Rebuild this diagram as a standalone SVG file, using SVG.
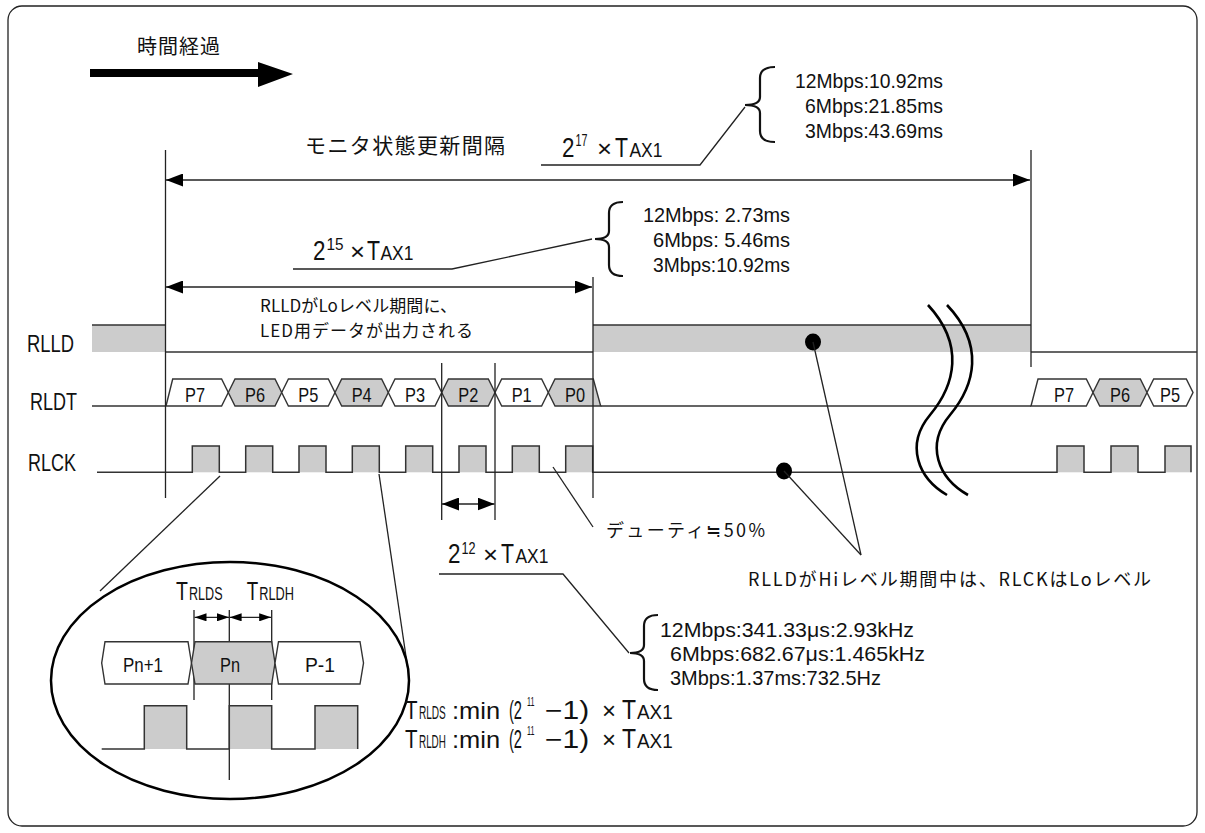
<svg xmlns="http://www.w3.org/2000/svg" width="1205" height="833" viewBox="0 0 1205 833">
<style>
.t{font-family:"Liberation Sans","Noto Sans CJK JP",sans-serif;fill:#111}
.j{font-family:"Noto Sans CJK JP","Liberation Sans",sans-serif;fill:#111}
.ln{stroke:#222;stroke-width:1.3;fill:none}
.sig{stroke:#333;stroke-width:1.5;fill:none}
.g{fill:#cccccc}
.hw{fill:#fff;stroke:#333;stroke-width:1.4}
.hg{fill:#cccccc;stroke:#333;stroke-width:1.4}
.br{stroke:#111;stroke-width:2.2;fill:none}
</style>
<defs>
<marker id="ah" markerWidth="17" markerHeight="13" refX="17" refY="6.5" orient="auto-start-reverse" markerUnits="userSpaceOnUse"><path d="M0,0 L17,6.5 L0,13 Z" fill="#000"/></marker>
<marker id="ahs" markerWidth="12" markerHeight="8" refX="12" refY="4" orient="auto-start-reverse" markerUnits="userSpaceOnUse"><path d="M0,0 L12,4 L0,8 Z" fill="#000"/></marker>
</defs>
<rect x="8" y="6" width="1189" height="820" rx="14" fill="#fff" stroke="#222" stroke-width="1.3"/>

<g id="time-arrow">
<text class="j" x="137" y="54" font-size="20" textLength="83">時間経過</text>
<polygon points="90,69 258,69 258,62 293,74 258,87 258,77 90,77" fill="#000"/>
</g>

<g id="monitor-interval">
<text class="j" x="305" y="153" font-size="21" textLength="200">モニタ状態更新間隔</text>
<g class="t" transform="translate(562,157)">
<text transform="scale(0.8,1)" font-size="28">2</text>
<text transform="translate(13.5,-11) scale(0.67,1)" font-size="16">17</text>
<text transform="translate(35,0) scale(1.07,1)" font-size="24">×</text>
<text transform="translate(53,0) scale(0.76,1)" font-size="28">T</text>
<text transform="translate(67.5,0) scale(0.83,1)" font-size="21">AX1</text>
</g>
<path class="br" d="M775,67 Q760,67 760,78 L760,97 Q760,105 745,105 Q760,105 760,113 L760,131 Q760,142 775,142"/>
<text class="t" x="943" y="88" font-size="21" text-anchor="end" textLength="148" lengthAdjust="spacingAndGlyphs">12Mbps:10.92ms</text>
<text class="t" x="943" y="113" font-size="21" text-anchor="end" textLength="138" lengthAdjust="spacingAndGlyphs">6Mbps:21.85ms</text>
<text class="t" x="943" y="138" font-size="21" text-anchor="end" textLength="138" lengthAdjust="spacingAndGlyphs">3Mbps:43.69ms</text>
</g>

<g id="lo-period">
<g class="t" transform="translate(313,260)">
<text transform="scale(0.8,1)" font-size="28">2</text>
<text transform="translate(13.5,-10) scale(0.9,1)" font-size="17">15</text>
<text transform="translate(37,0) scale(1.07,1)" font-size="24">×</text>
<text transform="translate(54,0) scale(0.76,1)" font-size="28">T</text>
<text transform="translate(67.5,0) scale(0.83,1)" font-size="21">AX1</text>
</g>
<path class="br" d="M623,202 Q609,202 609,213 L609,231 Q609,239 595,239 Q609,239 609,247 L609,265 Q609,276 623,276"/>
<text class="t" x="790" y="222" font-size="21" text-anchor="end" textLength="147" lengthAdjust="spacingAndGlyphs">12Mbps: 2.73ms</text>
<text class="t" x="790" y="247" font-size="21" text-anchor="end" textLength="137" lengthAdjust="spacingAndGlyphs">6Mbps: 5.46ms</text>
<text class="t" x="790" y="272" font-size="21" text-anchor="end" textLength="137" lengthAdjust="spacingAndGlyphs">3Mbps:10.92ms</text>
<text class="j" x="260" y="312" font-size="17" textLength="197">RLLDがLoレベル期間に、</text>
<text class="j" x="260" y="337" font-size="17" textLength="213">LED用データが出力される</text>
</g>

<g id="signal-labels">
<text class="t" x="27" y="352" font-size="23" textLength="47" lengthAdjust="spacingAndGlyphs">RLLD</text>
<text class="t" x="30" y="410" font-size="23" textLength="47" lengthAdjust="spacingAndGlyphs">RLDT</text>
<text class="t" x="28" y="471" font-size="23" textLength="48" lengthAdjust="spacingAndGlyphs">RLCK</text>
</g>

<g id="rlld">
<rect class="g" x="92" y="325" width="74" height="27"/>
<rect class="g" x="593" y="325" width="438" height="27"/>
<path class="sig" d="M92,325 H166 M166,352 H593 M593,325 H1031 M1031,352 H1197"/>
</g>

<g id="rldt">
<path class="sig" d="M92,406 H166 M600.7,406 H1031"/>
<path class="hw" d="M166,406 L172.7,379 L221.6,379 L228.3,392.5 L221.6,406 Z"/>
<path class="hg" d="M228.3,392.5 L235,379 L275,379 L281.7,392.5 L275,406 L235,406 Z"/>
<path class="hw" d="M281.7,392.5 L288.4,379 L328.3,379 L335,392.5 L328.3,406 L288.4,406 Z"/>
<path class="hg" d="M335,392.5 L341.7,379 L381.6,379 L388.3,392.5 L381.6,406 L341.7,406 Z"/>
<path class="hw" d="M388.3,392.5 L395,379 L435,379 L441.7,392.5 L435,406 L395,406 Z"/>
<path class="hg" d="M441.7,392.5 L448.4,379 L488.3,379 L495,392.5 L488.3,406 L448.4,406 Z"/>
<path class="hw" d="M495,392.5 L501.7,379 L541.6,379 L548.3,392.5 L541.6,406 L501.7,406 Z"/>
<path class="hg" d="M548.3,392.5 L555,379 L593.3,379 L600.7,406 L555,406 Z"/>
<path class="hw" d="M1031,406 L1038,379 L1086.3,379 L1093,392.5 L1086.3,406 Z"/>
<path class="hg" d="M1093,392.5 L1099.7,379 L1140.3,379 L1147,392.5 L1140.3,406 L1099.7,406 Z"/>
<path class="hw" d="M1147,392.5 L1153.7,379 L1186.3,379 L1193,392.5 L1186.3,406 L1153.7,406 Z"/>
<g class="t" font-size="21" text-anchor="middle">
<text x="195" y="401.5" textLength="20" lengthAdjust="spacingAndGlyphs">P7</text>
<text x="255" y="401.5" textLength="20" lengthAdjust="spacingAndGlyphs">P6</text>
<text x="308.3" y="401.5" textLength="20" lengthAdjust="spacingAndGlyphs">P5</text>
<text x="361.7" y="401.5" textLength="20" lengthAdjust="spacingAndGlyphs">P4</text>
<text x="415" y="401.5" textLength="20" lengthAdjust="spacingAndGlyphs">P3</text>
<text x="468.3" y="401.5" textLength="20" lengthAdjust="spacingAndGlyphs">P2</text>
<text x="521.7" y="401.5" textLength="20" lengthAdjust="spacingAndGlyphs">P1</text>
<text x="575" y="401.5" textLength="20" lengthAdjust="spacingAndGlyphs">P0</text>
<text x="1064" y="401.5" textLength="20" lengthAdjust="spacingAndGlyphs">P7</text>
<text x="1120" y="401.5" textLength="20" lengthAdjust="spacingAndGlyphs">P6</text>
<text x="1170" y="401.5" textLength="20" lengthAdjust="spacingAndGlyphs">P5</text>
</g>
</g>

<g id="rlck">
<g class="g">
<rect x="192.3" y="446" width="27" height="26.3"/>
<rect x="245.7" y="446" width="27" height="26.3"/>
<rect x="299" y="446" width="27" height="26.3"/>
<rect x="352.3" y="446" width="27" height="26.3"/>
<rect x="405.7" y="446" width="27" height="26.3"/>
<rect x="459" y="446" width="27" height="26.3"/>
<rect x="512.3" y="446" width="27" height="26.3"/>
<rect x="565.7" y="446" width="27" height="26.3"/>
<rect x="1057" y="446" width="27" height="26.3"/>
<rect x="1111" y="446" width="27" height="26.3"/>
<rect x="1165" y="446" width="26" height="26.3"/>
</g>
<path class="sig" d="M97,472.3 H192.3 V446 H219.3 V472.3 H245.7 V446 H272.7 V472.3 H299 V446 H326 V472.3 H352.3 V446 H379.3 V472.3 H405.7 V446 H432.7 V472.3 H459 V446 H486 V472.3 H512.3 V446 H539.3 V472.3 H565.7 V446 H592.7 V472.3 H1057 V446 H1084 V472.3 H1111 V446 H1138 V472.3 H1165 V446 H1191 V472.3"/>
</g>

<g id="break-mark">
<path d="M928,305 C965,345 955,385 930,415 C905,445 918,478 947,495" stroke="#000" stroke-width="2.6" fill="none"/>
<path d="M947,305 C985,345 975,385 950,415 C925,445 938,478 968,495" stroke="#000" stroke-width="2.6" fill="none"/>
</g>

<g id="dots">
<ellipse cx="813" cy="342" rx="8" ry="8.5" fill="#000"/>
<ellipse cx="784" cy="471" rx="8" ry="8.5" fill="#000"/>
</g>

<g id="connectors">
<path class="ln" d="M165.5,150 V498 M1031,150 V367 M593,277 V498 M441.7,363 V520 M495,363 V520"/>
<line class="ln" x1="166" y1="180" x2="1030" y2="180" marker-start="url(#ah)" marker-end="url(#ah)"/>
<line class="ln" x1="166" y1="287" x2="592" y2="287" marker-start="url(#ah)" marker-end="url(#ah)"/>
<line class="ln" x1="442" y1="504" x2="494.5" y2="504" marker-start="url(#ah)" marker-end="url(#ah)"/>
<path class="ln" d="M541,165 H700 L745,107"/>
<path class="ln" d="M293,269 H452 L592,239"/>
<path class="ln" d="M439,574 H563 L629,653"/>
<line class="ln" x1="553" y1="467" x2="593" y2="527"/>
<line class="ln" x1="813" y1="342" x2="861" y2="555"/>
<line class="ln" x1="784" y1="471" x2="861" y2="555"/>
<line class="ln" x1="220" y1="476" x2="100" y2="591"/>
<line class="ln" x1="379" y1="474" x2="408" y2="670"/>
</g>

<g id="period-label">
<g class="t" transform="translate(448,563)">
<text transform="scale(0.8,1)" font-size="28">2</text>
<text transform="translate(13.5,-9) scale(0.79,1)" font-size="16">12</text>
<text transform="translate(35,0) scale(1.07,1)" font-size="24">×</text>
<text transform="translate(53,0) scale(0.76,1)" font-size="28">T</text>
<text transform="translate(67.5,0) scale(0.83,1)" font-size="21">AX1</text>
</g>
<path class="br" d="M658,615 Q644,615 644,626 L644,645 Q644,653 630,653 Q644,653 644,661 L644,679 Q644,690 658,690"/>
<text class="t" x="660" y="637" font-size="21" textLength="254" lengthAdjust="spacingAndGlyphs">12Mbps:341.33μs:2.93kHz</text>
<text class="t" x="670" y="661" font-size="21" textLength="255" lengthAdjust="spacingAndGlyphs">6Mbps:682.67μs:1.465kHz</text>
<text class="t" x="670" y="685" font-size="21" textLength="211" lengthAdjust="spacingAndGlyphs">3Mbps:1.37ms:732.5Hz</text>
</g>

<g id="duty">
<text class="j" x="606" y="537" font-size="18" textLength="159">デューティ≒50%</text>
</g>

<g id="hi-note">
<text class="j" x="748" y="586" font-size="18" textLength="403">RLLDがHiレベル期間中は、RLCKはLoレベル</text>
</g>

<g id="zoom-detail">
<ellipse cx="230" cy="680.5" rx="179" ry="118.5" fill="none" stroke="#000" stroke-width="2.5"/>
<g class="t">
<text transform="translate(176,600) scale(0.78,1)" font-size="25">T</text>
<text transform="translate(189,600) scale(0.7,1)" font-size="18">RLDS</text>
<text transform="translate(246.7,600) scale(0.75,1)" font-size="25">T</text>
<text transform="translate(259.3,600) scale(0.71,1)" font-size="18">RLDH</text>
</g>
<path class="ln" d="M194,610 V700 M271.7,610 V700 M229.3,610 V780"/>
<line class="ln" x1="194.5" y1="617.3" x2="229" y2="617.3" marker-start="url(#ahs)" marker-end="url(#ahs)"/>
<line class="ln" x1="229.6" y1="617.3" x2="271.2" y2="617.3" marker-start="url(#ahs)" marker-end="url(#ahs)"/>
<path class="hw" d="M105,641.7 L188,641.7 L191.5,663 L188,684 L105,684 L101.7,663 Z"/>
<path class="hg" d="M195,641.7 L271.7,641.7 L275,663 L271.7,684 L195,684 L191.5,663 Z"/>
<path class="hw" d="M278.5,641.7 L360,641.7 L363.5,663 L360,684 L278.5,684 L275,663 Z"/>
<text class="t" x="143" y="672" font-size="21" text-anchor="middle" textLength="40" lengthAdjust="spacingAndGlyphs">Pn+1</text>
<text class="t" x="230" y="672" font-size="21" text-anchor="middle" textLength="20" lengthAdjust="spacingAndGlyphs">Pn</text>
<text class="t" x="320" y="672" font-size="21" text-anchor="middle" textLength="30" lengthAdjust="spacingAndGlyphs">P-1</text>
<rect class="g" x="144.3" y="705.7" width="42.4" height="43.3"/>
<rect class="g" x="229.3" y="705.7" width="42.4" height="43.3"/>
<rect class="g" x="315" y="705.7" width="42.7" height="43.3"/>
<path class="sig" d="M101.7,749 H144.3 V705.7 H186.7 V749 H229.3 V705.7 H271.7 V749 H315 V705.7 H357.7 V749"/>
</g>

<g id="timing-notes" class="t">
<text transform="translate(405,719) scale(0.79,1)" font-size="26">T</text>
<text transform="translate(419,719) scale(0.53,1)" font-size="19">RLDS</text>
<text transform="translate(452,719) scale(1.06,1)" font-size="24">:min</text>
<text transform="translate(509,719) scale(0.585,1)" font-size="25">(2</text>
<text transform="translate(527,706) scale(0.55,1)" font-size="13">11</text>
<text transform="translate(545,719) scale(1.2,1)" font-size="25">−1)</text>
<text transform="translate(602,719)" font-size="24">×</text>
<text transform="translate(622,719) scale(0.82,1)" font-size="28">T</text>
<text transform="translate(637,719) scale(0.9,1)" font-size="21">AX1</text>
<text transform="translate(405,748) scale(0.79,1)" font-size="26">T</text>
<text transform="translate(419,748) scale(0.52,1)" font-size="19">RLDH</text>
<text transform="translate(452,748) scale(1.06,1)" font-size="24">:min</text>
<text transform="translate(509,748) scale(0.585,1)" font-size="25">(2</text>
<text transform="translate(527,735) scale(0.55,1)" font-size="13">11</text>
<text transform="translate(545,748) scale(1.2,1)" font-size="25">−1)</text>
<text transform="translate(602,748)" font-size="24">×</text>
<text transform="translate(622,748) scale(0.82,1)" font-size="28">T</text>
<text transform="translate(637,748) scale(0.9,1)" font-size="21">AX1</text>
</g>
</svg>
